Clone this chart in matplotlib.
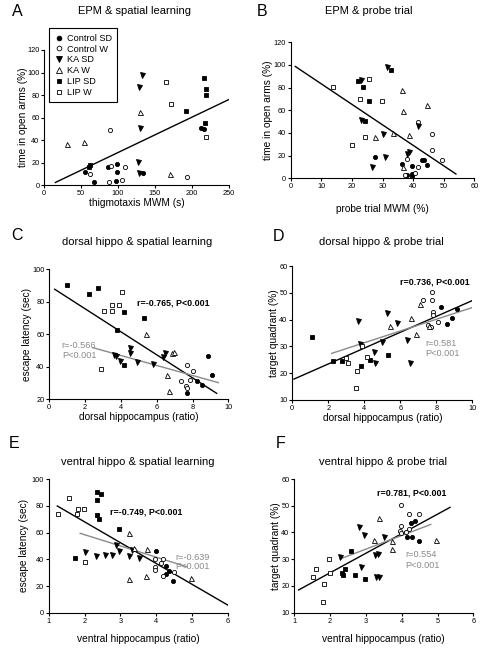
import matplotlib
matplotlib.use("Agg")
import matplotlib.pyplot as plt
from matplotlib.lines import Line2D

plt.rcParams['font.family'] = ['Liberation Sans', 'DejaVu Sans']

W, H = 483, 651

GROUPS = ['Control SD', 'Control W', 'KA SD', 'KA W', 'LIP SD', 'LIP W']
# marker, filled?
STYLE = {
    'Control SD': ('o', True),
    'Control W': ('o', False),
    'KA SD': ('v', True),
    'KA W': ('^', False),
    'LIP SD': ('s', True),
    'LIP W': ('s', False),
}
GREY = '#8a8a8a'

# ---- A: EPM & spatial learning (thigmotaxis s, open arms %)
a_ctrl_sd = [(55, 12), (68, 3), (87, 16), (98, 19), (98, 12), (97, 4), (134, 11), (213, 51), (216, 50)]
a_ctrl_w = [(62, 10), (90, 17), (88, 3), (105, 5), (109, 16), (89, 49), (194, 7)]
a_ka_sd = [(132, 98), (129, 87), (130, 51), (127, 21), (128, 11)]
a_ka_w = [(31, 37), (54, 38), (130, 65), (170, 10)]
a_lip_sd = [(62, 18), (61, 16), (216, 95), (219, 85), (219, 80), (192, 66), (218, 55)]
a_lip_w = [(165, 92), (172, 72), (219, 43)]
a_fit = ([15, 250], [2.5, 76])

# ---- B: EPM & probe trial (probe %, open arms %)
b_ctrl_sd = [(27.7, 18.5), (36.3, 12.6), (39.6, 11.2), (43.0, 16.2), (43.6, 15.9), (44.5, 11.5),
             (39.5, 3.8), (37.9, 2.6), (39.7, 2.0)]
b_ctrl_w = [(41.7, 49.7), (46.3, 38.8), (46.3, 25.0), (49.5, 16.2), (37.9, 16.8), (41.6, 10.3),
            (40.6, 5.0), (37.3, 2.6)]
b_ka_sd = [(22.9, 87.0), (31.4, 98.5), (23.1, 51.0), (30.3, 39.1), (41.7, 46.5), (30.9, 18.5),
           (26.7, 10.3), (38.6, 23.2), (37.9, 21.5)]
b_ka_w = [(36.5, 78.0), (36.7, 59.0), (44.5, 65.0), (27.7, 36.8), (33.4, 39.7), (38.7, 38.2), (36.6, 10.3)]
b_lip_sd = [(22.1, 85.9), (23.7, 80.3), (25.6, 68.5), (32.7, 95.6), (24.4, 50.6)]
b_lip_w = [(13.7, 80.9), (25.6, 88.0), (22.6, 69.7), (29.7, 68.5), (24.3, 36.2), (20.1, 29.7)]
b_fit = ([1.5, 54], [98.7, 3.8])

# ---- C: dorsal hippo & spatial learning (ratio, latency sec)
c_ctrl_sd = [(8.85, 46.5), (9.1, 35.0), (8.23, 31.25), (8.51, 28.75), (7.71, 24.0)]
c_ctrl_w = [(7.71, 41.0), (8.04, 37.2), (7.86, 32.0), (7.34, 30.8), (7.63, 27.8), (7.71, 26.8)]
c_ka_sd = [(4.5, 51.7), (4.5, 48.6), (3.6, 47.0), (3.75, 46.5), (3.95, 43.4), (4.88, 43.0),
           (5.77, 41.6), (6.46, 48.6), (6.33, 46.1)]
c_ka_w = [(5.4, 60.0), (6.83, 48.2), (6.96, 48.8), (6.59, 34.5), (6.69, 25.1)]
c_lip_sd = [(1.0, 90.25), (2.7, 88.75), (2.2, 84.5), (4.19, 73.5), (5.3, 70.0), (3.76, 62.5), (4.19, 40.75)]
c_lip_w = [(4.08, 85.75), (3.89, 78.0), (3.52, 78.0), (3.05, 74.0), (3.48, 74.0), (2.89, 38.25)]
c_fit_all = ([0.3, 9.35], [87.7, 23.5])
c_fit_sub = ([2.42, 9.44], [51.7, 30.1])

# ---- D: dorsal hippo & probe trial (ratio, target quadrant %)
d_ctrl_sd = [(8.26, 44.8), (9.15, 43.8), (8.57, 38.5), (8.89, 40.5)]
d_ctrl_w = [(7.74, 50.4), (7.28, 47.3), (7.74, 47.3), (7.83, 42.8), (7.8, 41.7), (8.11, 39.0),
            (7.56, 38.0), (7.69, 37.4)]
d_ka_sd = [(5.24, 42.6), (3.63, 39.6), (5.83, 38.9), (6.39, 32.4), (4.96, 31.8), (3.75, 31.0),
           (4.56, 28.0), (4.59, 23.9), (6.54, 23.9)]
d_ka_w = [(7.09, 45.8), (6.59, 40.7), (5.43, 37.7), (6.87, 34.5), (7.6, 37.5)]
d_lip_sd = [(1.07, 33.6), (2.28, 24.7), (2.74, 24.4), (3.8, 22.8), (4.31, 24.9), (5.3, 26.7)]
d_lip_w = [(2.96, 25.5), (3.11, 23.7), (3.57, 20.9), (3.54, 14.6), (3.85, 30.3), (4.13, 26.0)]
d_fit_all = ([0.09, 10], [17.8, 47.1])
d_fit_sub = ([2.19, 10], [27.4, 44.5])

# ---- E: ventral hippo & spatial learning (ratio, latency sec)
e_ctrl_sd = [(4.0, 46.5), (4.27, 35.0), (4.27, 28.75), (4.36, 31.25), (4.47, 24.0)]
e_ctrl_w = [(3.97, 40.5), (4.2, 40.5), (3.97, 34.0), (3.97, 32.0), (4.14, 37.0), (4.5, 30.5), (4.2, 27.5)]
e_ka_sd = [(2.01, 45.5), (2.31, 42.5), (2.57, 43.0), (2.78, 43.5), (2.87, 50.5), (2.95, 46.0),
           (3.24, 42.5), (3.52, 41.25), (3.34, 47.0)]
e_ka_w = [(3.24, 60.0), (3.37, 48.5), (3.74, 47.75), (3.71, 27.75), (4.97, 25.75), (3.23, 25.0)]
e_lip_sd = [(2.34, 90.25), (2.45, 88.75), (2.34, 84.5), (2.34, 73.5), (2.41, 70.0), (2.96, 62.5), (1.73, 40.75)]
e_lip_w = [(1.58, 85.75), (1.27, 74.0), (1.82, 78.0), (1.99, 78.0), (1.8, 74.0), (2.0, 38.25)]
e_fit_all = ([1.24, 6.0], [80.0, 5.75])
e_fit_sub = ([1.88, 4.85], [59.5, 34.5])

# ---- F: ventral hippo & probe trial (ratio, target quadrant %)
f_ctrl_sd = [(4.25, 43.7), (4.38, 44.2), (4.16, 38.4), (4.28, 38.2), (4.48, 36.9)]
f_ctrl_w = [(3.97, 50.3), (4.21, 46.9), (4.49, 46.9), (3.98, 42.4), (3.95, 40.7), (3.98, 39.9),
            (4.21, 41.3), (4.12, 40.3)]
f_ka_sd = [(2.28, 30.7), (2.81, 42.2), (2.95, 39.2), (3.5, 38.4), (2.86, 27.2), (3.25, 31.6),
           (3.35, 31.9), (3.28, 23.5), (3.37, 23.5)]
f_ka_w = [(3.37, 45.3), (3.23, 37.2), (4.96, 37.2), (3.72, 36.9), (3.74, 33.8)]
f_lip_sd = [(2.32, 24.7), (2.35, 24.2), (2.42, 26.2), (2.58, 33.2), (2.69, 24.2), (2.97, 22.5)]
f_lip_w = [(1.51, 23.2), (1.6, 26.2), (1.98, 30.1), (2.0, 24.7), (1.83, 20.6), (1.79, 14.1)]
f_fit_all = ([1.12, 5.35], [18.5, 49.4])
f_fit_sub = ([2.28, 4.81], [30.1, 43.0])


def px_axes(fig, left, top, right, bottom):
    return fig.add_axes([left / W, 1 - bottom / H, (right - left) / W, (bottom - top) / H])


def style_axes(ax, xlim, ylim, xticks, yticks, xlabel, ylabel, xlab_y, ylab_x):
    for s in ('top', 'right'):
        ax.spines[s].set_visible(False)
    for s in ('left', 'bottom'):
        ax.spines[s].set_linewidth(0.8)
    ax.set_xlim(*xlim)
    ax.set_ylim(*ylim)
    ax.set_xticks(xticks)
    ax.set_yticks(yticks)
    ax.tick_params(direction='out', length=2.5, width=0.8, labelsize=5.3, pad=1)
    ax.set_xlabel(xlabel, fontsize=7.3)
    ax.set_ylabel(ylabel, fontsize=7.3)
    ax.xaxis.set_label_coords(0.5, xlab_y)
    ax.xaxis.label.set_va('center')
    ax.yaxis.set_label_coords(ylab_x, 0.5)
    ax.yaxis.label.set_va('center')


def scatter_groups(ax, groups):
    for name, pts in zip(GROUPS, groups):
        m, filled = STYLE[name]
        xs = [p[0] for p in pts]
        ys = [p[1] for p in pts]
        ms = 3.6 if m in ('v', '^') else 3.0
        ax.plot(xs, ys, ls='none', marker=m, ms=ms, mew=0.6, mec='black',
                mfc='black' if filled else 'white', zorder=3)


fig = plt.figure(figsize=(W / 100, H / 100), dpi=100)

panels = [
    # letter, title, letter pos, title pos, axes px box, data
    ('A', 'EPM & spatial learning', (17, 12), (134, 11), (44.3, 50, 228.7, 185.3),
     [a_ctrl_sd, a_ctrl_w, a_ka_sd, a_ka_w, a_lip_sd, a_lip_w]),
    ('B', 'EPM & probe trial', (262, 12), (369, 11), (290.7, 42.3, 474.3, 178.3),
     [b_ctrl_sd, b_ctrl_w, b_ka_sd, b_ka_w, b_lip_sd, b_lip_w]),
    ('C', 'dorsal hippo & spatial learning', (17, 235), (137, 242), (49.3, 269.3, 228.3, 399),
     [c_ctrl_sd, c_ctrl_w, c_ka_sd, c_ka_w, c_lip_sd, c_lip_w]),
    ('D', 'dorsal hippo & probe trial', (279, 236), (381, 242), (292.3, 266, 472.3, 400),
     [d_ctrl_sd, d_ctrl_w, d_ka_sd, d_ka_w, d_lip_sd, d_lip_w]),
    ('E', 'ventral hippo & spatial learning', (14, 444), (138, 462), (48.7, 479.3, 227.7, 612.7),
     [e_ctrl_sd, e_ctrl_w, e_ka_sd, e_ka_w, e_lip_sd, e_lip_w]),
    ('F', 'ventral hippo & probe trial', (281, 444), (383, 462), (294.3, 479, 473.3, 612.7),
     [f_ctrl_sd, f_ctrl_w, f_ka_sd, f_ka_w, f_lip_sd, f_lip_w]),
]

axes = {}
for letter, title, lpos, tpos, box, groups in panels:
    ax = px_axes(fig, *box)
    scatter_groups(ax, groups)
    axes[letter] = ax
    fig.text(lpos[0] / W, 1 - lpos[1] / H, letter, fontsize=11.5, ha='center', va='center')
    fig.text(tpos[0] / W, 1 - tpos[1] / H, title, fontsize=8, ha='center', va='center')

# A
ax = axes['A']
ax.plot(*a_fit, color='black', lw=1.0, zorder=2)
style_axes(ax, (0, 250), (0, 120), range(0, 251, 50), range(0, 121, 20),
           'thigmotaxis MWM (s)', 'time in open arms (%)', -0.1345, -0.1155)

# B
ax = axes['B']
ax.plot(*b_fit, color='black', lw=1.0, zorder=2)
style_axes(ax, (0, 60), (0, 120), range(0, 61, 10), range(0, 121, 20),
           'probe trial MWM (%)', 'time in open arms (%)', -0.226, -0.1236)

# C
ax = axes['C']
ax.plot(*c_fit_all, color='black', lw=1.0, zorder=2)
ax.plot(*c_fit_sub, color=GREY, lw=1.0, zorder=2)
style_axes(ax, (0, 10), (20, 100), range(0, 11, 2), range(20, 101, 20),
           'dorsal hippocampus (ratio)', 'escape latency (sec)', -0.1426, -0.1246)
ax.text(4.9, 79, 'r=-0.765, P<0.001', fontsize=6.4, fontweight='bold', va='center')
ax.text(0.7, 53.3, 'r=-0.566', fontsize=6.6, color=GREY, va='center')
ax.text(0.7, 46.7, 'P<0.001', fontsize=6.6, color=GREY, va='center')

# D
ax = axes['D']
ax.plot(*d_fit_all, color='black', lw=1.0, zorder=2)
ax.plot(*d_fit_sub, color=GREY, lw=1.0, zorder=2)
style_axes(ax, (0, 10), (10, 60), range(0, 11, 2), range(10, 61, 10),
           'dorsal hippocampus (ratio)', 'target quadrant (%)', -0.134, -0.0989)
ax.text(9.85, 54.1, 'r=0.736, P<0.001', fontsize=6.4, fontweight='bold', va='center', ha='right')
ax.text(7.4, 31.2, 'r=0.581', fontsize=6.6, color=GREY, va='center')
ax.text(7.4, 27.2, 'P<0.001', fontsize=6.6, color=GREY, va='center')

# E
ax = axes['E']
ax.plot(*e_fit_all, color='black', lw=1.0, zorder=2)
ax.plot(*e_fit_sub, color=GREY, lw=1.0, zorder=2)
style_axes(ax, (1, 6), (0, 100), range(1, 7), range(0, 101, 20),
           'ventral hippocampus (ratio)', 'escape latency (sec)', -0.197, -0.138)
ax.text(2.71, 75.7, 'r=-0.749, P<0.001', fontsize=6.4, fontweight='bold', va='center')
ax.text(4.53, 41.2, 'r=-0.639', fontsize=6.6, color=GREY, va='center')
ax.text(4.53, 34.5, 'P<0.001', fontsize=6.6, color=GREY, va='center')

# F
ax = axes['F']
ax.plot(*f_fit_all, color='black', lw=1.0, zorder=2)
ax.plot(*f_fit_sub, color=GREY, lw=1.0, zorder=2)
style_axes(ax, (1, 6), (10, 60), range(1, 7), range(10, 61, 10),
           'ventral hippocampus (ratio)', 'target quadrant (%)', -0.197, -0.102)
ax.text(3.3, 54.7, 'r=0.781, P<0.001', fontsize=6.4, fontweight='bold', va='center')
ax.text(4.09, 31.6, 'r=0.554', fontsize=6.6, color=GREY, va='center')
ax.text(4.09, 27.5, 'P<0.001', fontsize=6.6, color=GREY, va='center')

# legend sits over panel A
handles = []
for name in GROUPS:
    m, filled = STYLE[name]
    handles.append(Line2D([], [], ls='none', marker=m, ms=4.0 if m in ('v', '^') else 3.4,
                          mew=0.6, mec='black', mfc='black' if filled else 'white'))
leg = fig.legend(handles, GROUPS, loc='upper left', bbox_to_anchor=(49.3 / W, 1 - 28.3 / H),
                 bbox_transform=fig.transFigure, borderaxespad=0, fontsize=6.6, frameon=True,
                 fancybox=False, framealpha=1, edgecolor='black', handlelength=1.0,
                 handletextpad=0.3, borderpad=0.6, labelspacing=0.2)
leg.get_frame().set_linewidth(0.8)

fig.savefig('out.png', dpi=100)
